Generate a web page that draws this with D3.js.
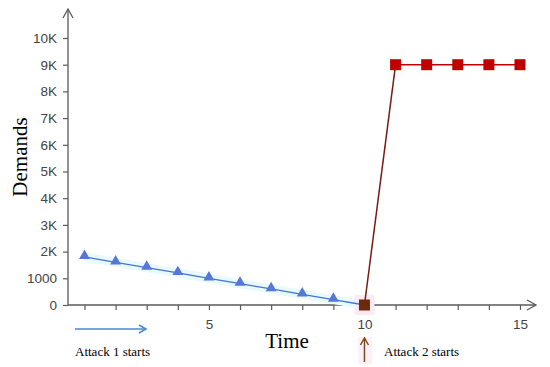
<!DOCTYPE html>
<html>
<head>
<meta charset="utf-8">
<script src="https://cdn.jsdelivr.net/npm/d3@7"></script>
<style>
  body { margin: 0; background: #fff; }
  svg { display: block; }
</style>
</head>
<body>
<div id="chart"></div>
<script>
// Attack 1: demand drains step by step until time 10
const attack1Times = [1, 2, 3, 4, 5, 6, 7, 8, 9, 10];
const attack1Values = [1800, 1600, 1400, 1200, 1000, 800, 600, 400, 200, 0];
// Attack 2: jumps up right after it starts
const attack2Times = [10, 11, 12, 13, 14, 15];
const attack2Values = [0, 9000, 9000, 9000, 9000, 9000];
const yTicks = [0, 1000, 2000, 3000, 4000, 5000, 6000, 7000, 8000, 9000, 10000];
const yTickLabels = ["0", "1000", "2K", "3K", "4K", "5K", "6K", "7K", "8K", "9K", "10K"];
const xTicks = [1, 2, 3, 4, 5, 6, 7, 8, 9, 10, 11, 12, 13, 14, 15];
const xLabelled = [5, 10, 15];

const width = 550, height = 367;
const svg = d3.select("#chart").append("svg")
    .attr("width", width)
    .attr("height", height);

const x = d3.scaleLinear().domain([1, 15]).range([84.5, 520]);
const y = d3.scaleLinear().domain([0, 10000]).range([305, 38]);

const axisColor = "#5a5a5a";
const axisX0 = 68, axisY0 = 305;

// axis lines with arrow heads
svg.append("line")
    .attr("x1", axisX0).attr("y1", axisY0)
    .attr("x2", axisX0).attr("y2", 9)
    .attr("stroke", axisColor).attr("stroke-width", 1.3);
svg.append("path")
    .attr("d", `M${axisX0 - 5},${18} L${axisX0},${9} L${axisX0 + 5},${18}`)
    .attr("fill", "none").attr("stroke", axisColor).attr("stroke-width", 1.3);

svg.append("line")
    .attr("x1", axisX0).attr("y1", axisY0)
    .attr("x2", 536).attr("y2", axisY0)
    .attr("stroke", axisColor).attr("stroke-width", 1.3);
svg.append("path")
    .attr("d", `M527,${axisY0 - 5} L536,${axisY0} L527,${axisY0 + 5}`)
    .attr("fill", "none").attr("stroke", axisColor).attr("stroke-width", 1.3);

// y axis ticks
const yAxis = d3.axisLeft(y)
    .tickValues(yTicks)
    .tickSize(5)
    .tickPadding(6)
    .tickFormat((d, i) => yTickLabels[i]);
const gy = svg.append("g")
    .attr("transform", `translate(${axisX0},0)`)
    .call(yAxis);
gy.select(".domain").remove();
gy.selectAll("line").attr("stroke", axisColor).attr("stroke-width", 1.2);
gy.selectAll("text")
    .attr("fill", "#444")
    .style("font-family", "Liberation Sans, Arial, sans-serif")
    .style("font-size", "13.5px");

// x axis ticks
const xAxis = d3.axisBottom(x)
    .tickValues(xTicks)
    .tickSize(5)
    .tickPadding(9)
    .tickFormat(d => xLabelled.includes(d) ? d : "");
const gx = svg.append("g")
    .attr("transform", `translate(0,${axisY0})`)
    .call(xAxis);
gx.select(".domain").remove();
gx.selectAll("line").attr("stroke", axisColor).attr("stroke-width", 1.2);
gx.selectAll("text")
    .attr("fill", "#444")
    .style("font-family", "Liberation Sans, Arial, sans-serif")
    .style("font-size", "13.5px");

const line = d3.line()
    .x(d => x(d[0]))
    .y(d => y(d[1]));

const a1 = attack1Times.map((t, i) => [t, attack1Values[i]]);
const a2 = attack2Times.map((t, i) => [t, attack2Values[i]]);

// faint glow behind the lines
svg.append("path")
    .datum(a1)
    .attr("d", line)
    .attr("fill", "none")
    .attr("stroke", "#e8fafd")
    .attr("stroke-width", 9);
svg.append("rect")
    .attr("x", x(10) - 10).attr("y", y(0) - 10)
    .attr("width", 20).attr("height", 20)
    .attr("fill", "#fcebf6");

svg.append("path")
    .datum(a1)
    .attr("d", line)
    .attr("fill", "none")
    .attr("stroke", "#4573d4")
    .attr("stroke-width", 1.3);

svg.append("path")
    .datum(a2.slice(0, 2))
    .attr("d", line)
    .attr("fill", "none")
    .attr("stroke", "#7a1a14")
    .attr("stroke-width", 1.5);
svg.append("path")
    .datum(a2.slice(1))
    .attr("d", line)
    .attr("fill", "none")
    .attr("stroke", "#c00000")
    .attr("stroke-width", 1.5);

// triangle markers (skip the last point where the square sits)
svg.selectAll(".tri")
    .data(a1.slice(0, -1))
    .enter().append("path")
    .attr("class", "tri")
    .attr("d", d3.symbol().type(d3.symbolTriangle).size(52))
    .attr("transform", d => `translate(${x(d[0])},${y(d[1]) - 1})`)
    .attr("fill", "#5677d8");

// square markers
svg.selectAll(".sq")
    .data(a2)
    .enter().append("rect")
    .attr("class", "sq")
    .attr("x", d => x(d[0]) - 5.5)
    .attr("y", d => y(d[1]) - 5.5)
    .attr("width", 11)
    .attr("height", 11)
    .attr("fill", (d, i) => i === 0 ? "#6b2b08" : "#c00000");

// axis titles
svg.append("text")
    .attr("x", 287).attr("y", 348)
    .attr("text-anchor", "middle")
    .style("font-family", "Liberation Serif, Times New Roman, serif")
    .style("font-size", "21px")
    .text("Time");
svg.append("text")
    .attr("transform", "translate(27,157) rotate(-90)")
    .attr("text-anchor", "middle")
    .style("font-family", "Liberation Serif, Times New Roman, serif")
    .style("font-size", "21px")
    .text("Demands");

// attack annotations
svg.append("line")
    .attr("x1", 75).attr("y1", 329).attr("x2", 146).attr("y2", 329)
    .attr("stroke", "#4a86d8").attr("stroke-width", 1.5);
svg.append("path")
    .attr("d", "M139,325 L146,329 L139,333")
    .attr("fill", "none").attr("stroke", "#4a86d8").attr("stroke-width", 1.5);
svg.append("text")
    .attr("x", 75).attr("y", 356)
    .style("font-family", "Liberation Serif, Times New Roman, serif")
    .style("font-size", "13px")
    .text("Attack 1 starts");

svg.append("rect")
    .attr("x", 358).attr("y", 337).attr("width", 14).attr("height", 27)
    .attr("fill", "#fdf0f9");
svg.append("line")
    .attr("x1", x(10)).attr("y1", 362).attr("x2", x(10)).attr("y2", 338)
    .attr("stroke", "#7a4a1e").attr("stroke-width", 1.5);
svg.append("path")
    .attr("d", `M${x(10) - 4},345 L${x(10)},338 L${x(10) + 4},345`)
    .attr("fill", "none").attr("stroke", "#7a4a1e").attr("stroke-width", 1.5);
svg.append("text")
    .attr("x", 384).attr("y", 356)
    .style("font-family", "Liberation Serif, Times New Roman, serif")
    .style("font-size", "13px")
    .text("Attack 2 starts");
</script>
</body>
</html>
